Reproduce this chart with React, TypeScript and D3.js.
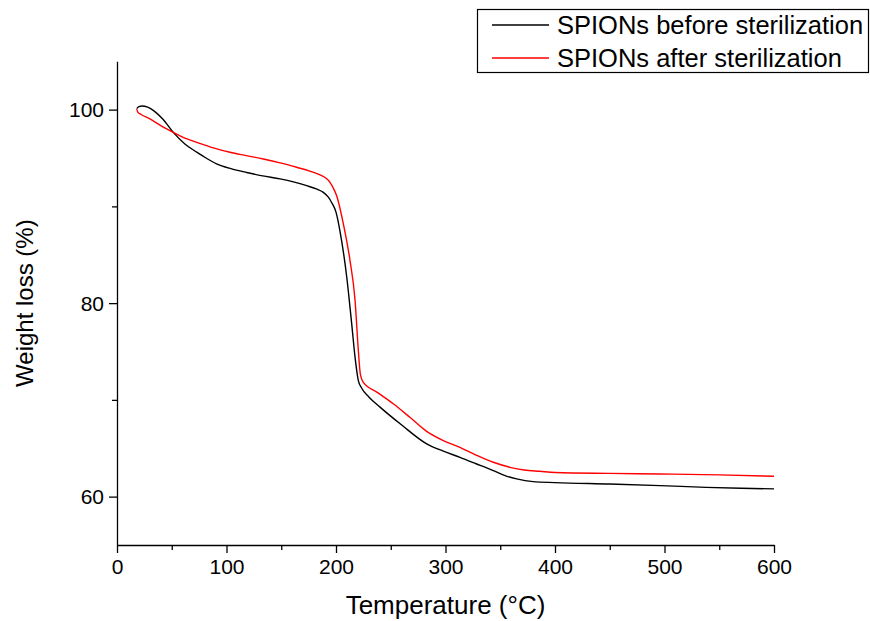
import React, { useEffect, useRef } from 'react';
import * as d3 from 'd3';

// TGA curves: [temperature °C, weight %]
const beforeSterilization: [number, number][] = [
  [18, 100.1], [20, 100.3], [23, 100.37], [28, 100.25], [34, 99.85], [42, 99.0],
  [51.4, 97.65], [62, 96.45], [72.8, 95.6], [82, 94.95], [91, 94.4], [104, 93.9],
  [118.4, 93.5], [133, 93.15], [148.9, 92.84], [162, 92.5], [173.2, 92.14], [182, 91.8],
  [188.4, 91.45], [193, 90.95], [196, 90.4], [200, 89.4], [203.7, 87.4], [209.8, 82.7],
  [214.3, 77.9], [217.4, 74.4], [220.4, 72.0], [223.5, 71.2], [230, 70.3], [240.2, 69.25],
  [260, 67.4], [282.8, 65.45], [298, 64.7], [313.2, 64.06], [328, 63.4], [343.7, 62.69],
  [355, 62.15], [365, 61.83], [380, 61.55], [400, 61.45], [450, 61.3], [496, 61.14],
  [538, 60.96], [570, 60.86], [600, 60.8],
];

const afterSterilization: [number, number][] = [
  [18, 100.05], [19, 99.75], [22, 99.5], [30.1, 99.04], [40, 98.35], [51.4, 97.65],
  [62, 97.05], [72.8, 96.62], [88, 96.05], [103.2, 95.59], [118, 95.25], [133.6, 94.9],
  [149, 94.5], [164.1, 94.04], [176, 93.65], [186.9, 93.18], [191, 92.9], [194.5, 92.49],
  [197.5, 91.9], [200.6, 91.1], [206.7, 88.2], [212.8, 84.4], [217.4, 80.3], [220.4, 75.1],
  [222.3, 72.6], [225, 71.8], [238, 70.75], [252.3, 69.6], [268, 68.15], [282.8, 66.75],
  [298, 65.8], [313.2, 65.1], [328, 64.3], [343.7, 63.55], [358.9, 63.03], [372, 62.75],
  [386.3, 62.62], [400, 62.5], [450, 62.4], [496, 62.34], [550, 62.25], [600, 62.1],
];

const seriesNames = ['SPIONs before sterilization', 'SPIONs after sterilization'];
const seriesColors = ['#000000', '#ff0000'];

const xTicks = [0, 100, 200, 300, 400, 500, 600];
const xMinor = [50, 150, 250, 350, 450, 550];
const yTicks = [60, 80, 100];
const yMinor = [70, 90];

const FONT = 'Arial, "Liberation Sans", sans-serif';

const App = () => {
  const svgRef = useRef<SVGSVGElement>(null);

  useEffect(() => {
    if (!svgRef.current) return;
    const svg = d3.select(svgRef.current);
    svg.selectAll('*').remove();

    const x = d3.scaleLinear().domain([0, 600]).range([117, 774]);
    const y = d3.scaleLinear().domain([55, 105]).range([545, 61.25]);

    // x axis: major + minor ticks
    const xAxis = svg.append('g')
      .attr('transform', `translate(0,${y(55)})`)
      .call(d3.axisBottom(x).tickValues(xTicks).tickSize(8).tickSizeOuter(0).tickPadding(6));
    svg.append('g')
      .attr('transform', `translate(0,${y(55)})`)
      .call(d3.axisBottom(x).tickValues(xMinor).tickSize(5).tickFormat(() => '').tickSizeOuter(0))
      .select('.domain').remove();

    const yAxis = svg.append('g')
      .attr('transform', `translate(${x(0)},0)`)
      .call(d3.axisLeft(y).tickValues(yTicks).tickSize(8).tickSizeOuter(0).tickPadding(5));
    svg.append('g')
      .attr('transform', `translate(${x(0)},0)`)
      .call(d3.axisLeft(y).tickValues(yMinor).tickSize(5).tickFormat(() => '').tickSizeOuter(0))
      .select('.domain').remove();

    svg.selectAll('.domain, .tick line').attr('stroke', '#000').attr('stroke-width', 1.3);
    xAxis.selectAll('text').attr('font-size', 21).attr('font-family', FONT).attr('fill', '#000');
    yAxis.selectAll('text').attr('font-size', 21).attr('font-family', FONT).attr('fill', '#000').attr('dy', '0.35em');

    // axis titles
    svg.append('text')
      .attr('x', (x(0) + x(600)) / 2)
      .attr('y', 614)
      .attr('text-anchor', 'middle')
      .attr('font-size', 26)
      .attr('font-family', FONT)
      .text('Temperature (°C)');

    svg.append('text')
      .attr('transform', `translate(33,${(y(55) + y(105)) / 2}) rotate(-90)`)
      .attr('text-anchor', 'middle')
      .attr('font-size', 24)
      .attr('font-family', FONT)
      .text('Weight loss (%)');

    // curves
    const line = d3.line<[number, number]>()
      .x(d => x(d[0]))
      .y(d => y(d[1]))
      .curve(d3.curveMonotoneX);

    [beforeSterilization, afterSterilization].forEach((data, i) => {
      svg.append('path')
        .attr('d', line(data))
        .attr('fill', 'none')
        .attr('stroke', seriesColors[i])
        .attr('stroke-width', 1.4);
    });

    // legend
    const legend = svg.append('g');
    legend.append('rect')
      .attr('x', 477.5)
      .attr('y', 9.5)
      .attr('width', 391)
      .attr('height', 63)
      .attr('fill', '#fff')
      .attr('stroke', '#000')
      .attr('stroke-width', 1.2);
    seriesNames.forEach((name, i) => {
      const ly = 25 + i * 33;
      legend.append('line')
        .attr('x1', 492).attr('x2', 549)
        .attr('y1', ly).attr('y2', ly)
        .attr('stroke', seriesColors[i])
        .attr('stroke-width', 1.4);
      legend.append('text')
        .attr('x', 557)
        .attr('y', ly + 9)
        .attr('font-size', 25.5)
        .attr('font-family', FONT)
        .text(name);
    });
  }, []);

  return (
    <svg
      ref={svgRef}
      width={870}
      height={621}
      style={{ position: 'absolute', left: 0, top: 0, background: '#fff' }}
    />
  );
};

export default App;
